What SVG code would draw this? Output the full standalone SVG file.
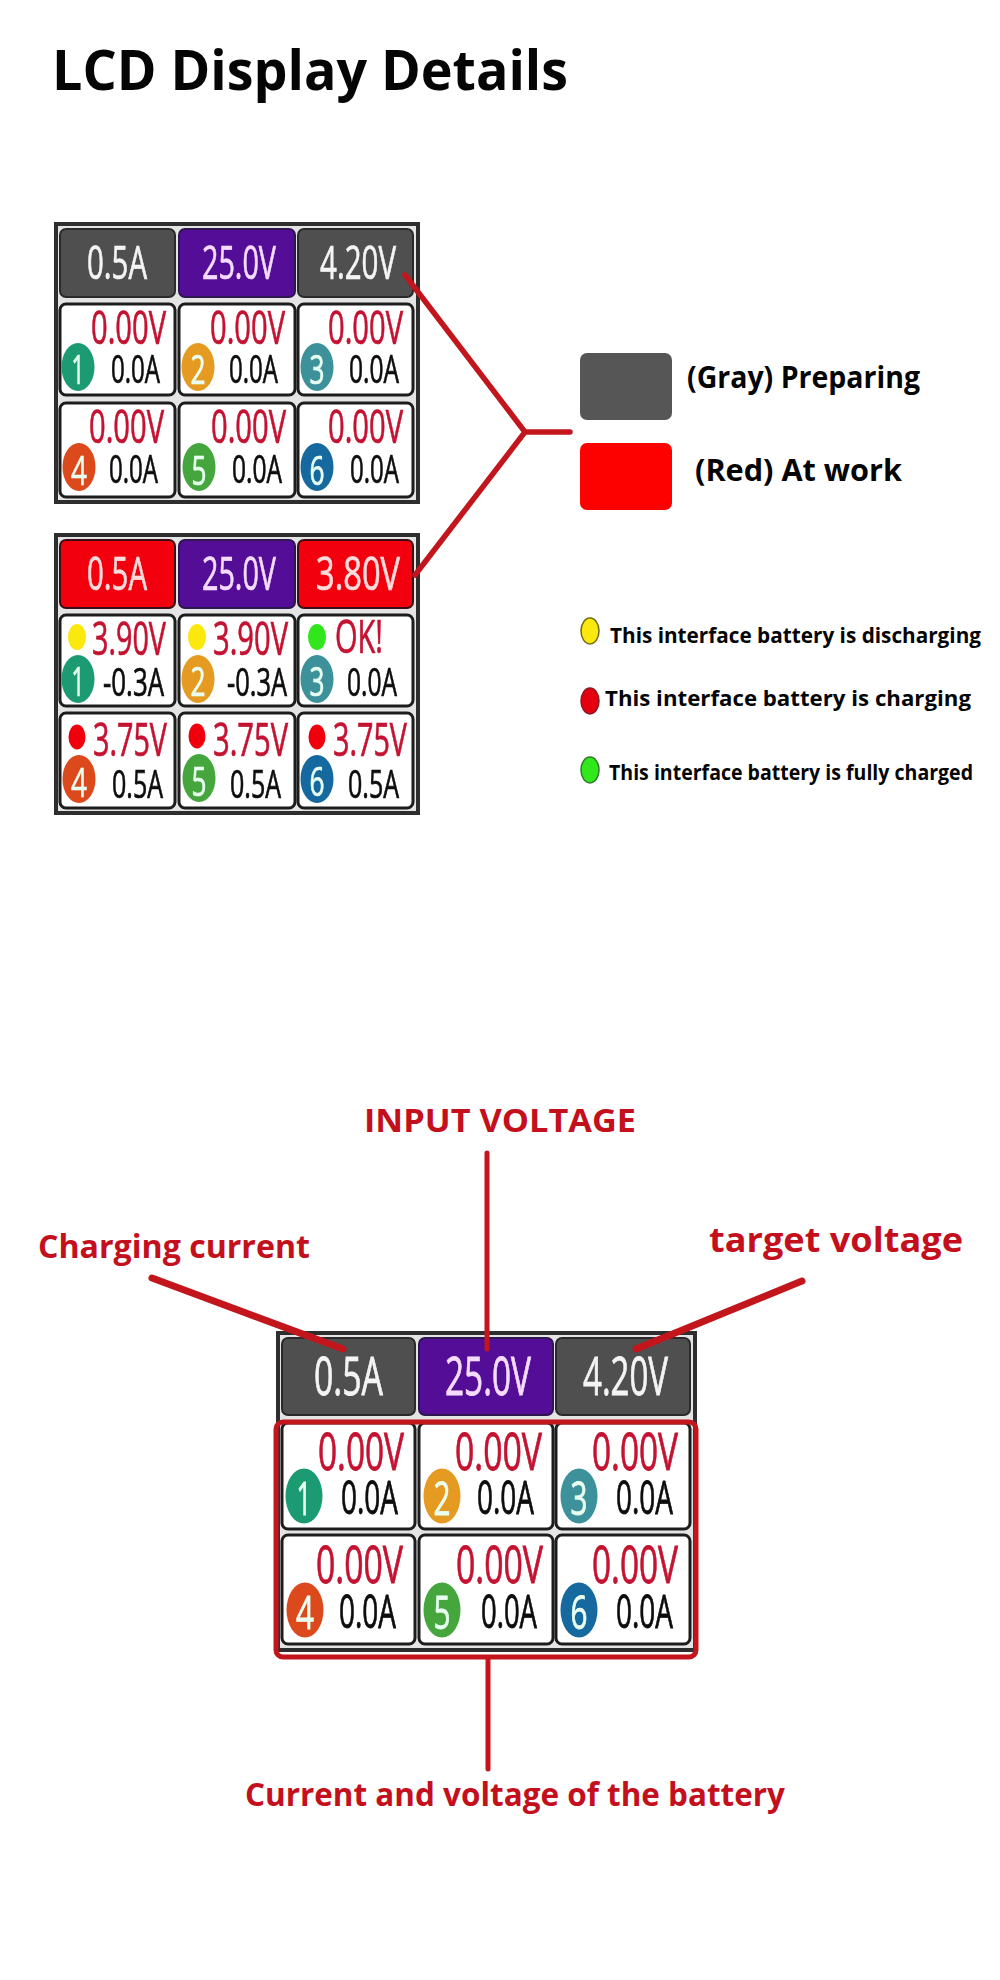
<svg xmlns="http://www.w3.org/2000/svg" width="1000" height="1980" viewBox="0 0 1000 1980">
<defs><filter id="soft" x="-5%" y="-5%" width="110%" height="110%"><feGaussianBlur stdDeviation="0.55"/></filter></defs>
<style>
text{font-family:"Open Sans","Noto Sans","Liberation Sans",sans-serif}
.b{font-weight:700}
.blk{fill:#050505}
.lab{fill:#c3101c}
.frame{fill:#e4e4e4;stroke:#2f2f2f;stroke-width:4}
.cell{fill:#fff;stroke:#1e1e1e;stroke-width:3}
.gray{fill:#4f4f4f;stroke:#2a2a2a;stroke-width:2}
.pur{fill:#520a96;stroke:#2f1450;stroke-width:2}
.redb{fill:#f2000f;stroke:#3a1014;stroke-width:2}
.tw{fill:#f4f4f4;stroke:#f4f4f4;stroke-width:.7;font-size:46px}
.tp{fill:#f5dcff;stroke:#f5dcff;stroke-width:.7;font-size:46px}
.tr{fill:#fbdcdc;stroke:#fbdcdc;stroke-width:.7;font-size:46px}
.v{fill:#c41230;stroke:#c41230;stroke-width:.7;font-size:45px}
.a{fill:#0a0a0a;stroke:#0a0a0a;stroke-width:.7;font-size:38px}
.n{fill:#e8fff0;stroke:#e8fff0;stroke-width:.7;font-size:40px;text-anchor:middle}
.tw3{fill:#f4f4f4;stroke:#f4f4f4;stroke-width:.8;font-size:53px}
.tp3{fill:#f5dcff;stroke:#f5dcff;stroke-width:.8;font-size:53px}
.v3{fill:#c41230;stroke:#c41230;stroke-width:.8;font-size:52px}
.a3{fill:#0a0a0a;stroke:#0a0a0a;stroke-width:.8;font-size:45px}
.n3{fill:#e8fff0;stroke:#e8fff0;stroke-width:.8;font-size:46px;text-anchor:middle}
.conn{stroke:#c2161f;fill:none;stroke-linecap:round}
.c1{fill:#1f9a72}.c2{fill:#e59a21}.c3{fill:#3c919a}.c4{fill:#dc4a1d}.c5{fill:#45a63c}.c6{fill:#16699f}
</style>
<rect width="1000" height="1980" fill="#fff"/>

<text id="title" class="b blk" x="52" y="90" font-size="56" textLength="516" lengthAdjust="spacingAndGlyphs">LCD Display Details</text>

<g id="panel-idle" filter="url(#soft)">
<rect class="frame" x="56" y="224" width="362" height="278"/>
<g id="p1-top1"><rect class="gray" x="60" y="229" width="115" height="68" rx="6"/><text class="tw" x="87" y="279" textLength="60" lengthAdjust="spacingAndGlyphs">0.5A</text></g>
<g id="p1-top2"><rect class="pur" x="179" y="229" width="116" height="68" rx="6"/><text class="tp" x="202" y="279" textLength="74" lengthAdjust="spacingAndGlyphs">25.0V</text></g>
<g id="p1-top3"><rect class="gray" x="298" y="229" width="115" height="68" rx="6"/><text class="tw" x="320" y="279" textLength="76" lengthAdjust="spacingAndGlyphs">4.20V</text></g>
<g id="p1-c1"><rect class="cell" x="60" y="304" width="115" height="91" rx="6"/><text class="v" x="91" y="344" textLength="75" lengthAdjust="spacingAndGlyphs">0.00V</text><ellipse class="c1" cx="78" cy="367" rx="16.5" ry="24"/><text class="n" x="78" y="384" textLength="13" lengthAdjust="spacingAndGlyphs">1</text><text class="a" x="111" y="383" textLength="49" lengthAdjust="spacingAndGlyphs">0.0A</text></g>
<g id="p1-c2"><rect class="cell" x="179" y="304" width="116" height="91" rx="6"/><text class="v" x="210" y="344" textLength="75" lengthAdjust="spacingAndGlyphs">0.00V</text><ellipse class="c2" cx="198" cy="367" rx="16.5" ry="24"/><text class="n" x="198" y="384" textLength="15" lengthAdjust="spacingAndGlyphs">2</text><text class="a" x="229" y="383" textLength="49" lengthAdjust="spacingAndGlyphs">0.0A</text></g>
<g id="p1-c3"><rect class="cell" x="298" y="304" width="115" height="91" rx="6"/><text class="v" x="328" y="344" textLength="75" lengthAdjust="spacingAndGlyphs">0.00V</text><ellipse class="c3" cx="317" cy="367" rx="16.5" ry="24"/><text class="n" x="317" y="384" textLength="15" lengthAdjust="spacingAndGlyphs">3</text><text class="a" x="349" y="383" textLength="50" lengthAdjust="spacingAndGlyphs">0.0A</text></g>
<g id="p1-c4"><rect class="cell" x="60" y="403" width="115" height="94" rx="6"/><text class="v" x="89" y="443" textLength="75" lengthAdjust="spacingAndGlyphs">0.00V</text><ellipse class="c4" cx="79" cy="467" rx="16.5" ry="24"/><text class="n" x="79" y="485" textLength="16" lengthAdjust="spacingAndGlyphs">4</text><text class="a" x="109" y="483" textLength="49" lengthAdjust="spacingAndGlyphs">0.0A</text></g>
<g id="p1-c5"><rect class="cell" x="179" y="403" width="116" height="94" rx="6"/><text class="v" x="211" y="443" textLength="75" lengthAdjust="spacingAndGlyphs">0.00V</text><ellipse class="c5" cx="199" cy="467" rx="16.5" ry="24"/><text class="n" x="199" y="485" textLength="15" lengthAdjust="spacingAndGlyphs">5</text><text class="a" x="232" y="483" textLength="50" lengthAdjust="spacingAndGlyphs">0.0A</text></g>
<g id="p1-c6"><rect class="cell" x="298" y="403" width="115" height="94" rx="6"/><text class="v" x="328" y="443" textLength="75" lengthAdjust="spacingAndGlyphs">0.00V</text><ellipse class="c6" cx="317" cy="467" rx="16.5" ry="24"/><text class="n" x="317" y="485" textLength="15" lengthAdjust="spacingAndGlyphs">6</text><text class="a" x="350" y="483" textLength="49" lengthAdjust="spacingAndGlyphs">0.0A</text></g>
</g>

<g id="panel-work" filter="url(#soft)">
<rect class="frame" x="56" y="535" width="362" height="278"/>
<g id="p2-top1"><rect class="redb" x="60" y="540" width="115" height="68" rx="6"/><text class="tr" x="87" y="590" textLength="60" lengthAdjust="spacingAndGlyphs">0.5A</text></g>
<g id="p2-top2"><rect class="pur" x="179" y="540" width="116" height="68" rx="6"/><text class="tp" x="202" y="590" textLength="74" lengthAdjust="spacingAndGlyphs">25.0V</text></g>
<g id="p2-top3"><rect class="redb" x="298" y="540" width="115" height="68" rx="6"/><text class="tr" x="316" y="590" textLength="84" lengthAdjust="spacingAndGlyphs">3.80V</text></g>
<g id="p2-c1"><rect class="cell" x="60" y="615" width="115" height="91" rx="6"/><ellipse cx="77" cy="637" rx="9" ry="13" fill="#fbe80f"/><text class="v" x="92" y="655" textLength="74" lengthAdjust="spacingAndGlyphs">3.90V</text><ellipse class="c1" cx="78" cy="679" rx="16.5" ry="24"/><text class="n" x="78" y="696" textLength="13" lengthAdjust="spacingAndGlyphs">1</text><text class="a" x="103" y="696" textLength="61" lengthAdjust="spacingAndGlyphs">-0.3A</text></g>
<g id="p2-c2"><rect class="cell" x="179" y="615" width="116" height="91" rx="6"/><ellipse cx="197" cy="637" rx="9" ry="13" fill="#fbe80f"/><text class="v" x="213" y="655" textLength="75" lengthAdjust="spacingAndGlyphs">3.90V</text><ellipse class="c2" cx="198" cy="679" rx="16.5" ry="24"/><text class="n" x="198" y="696" textLength="15" lengthAdjust="spacingAndGlyphs">2</text><text class="a" x="227" y="696" textLength="60" lengthAdjust="spacingAndGlyphs">-0.3A</text></g>
<g id="p2-c3"><rect class="cell" x="298" y="615" width="115" height="91" rx="6"/><ellipse cx="317" cy="637" rx="9" ry="13" fill="#32e61e"/><text class="v" x="335" y="653" textLength="48" lengthAdjust="spacingAndGlyphs">OK!</text><ellipse class="c3" cx="317" cy="679" rx="16.5" ry="24"/><text class="n" x="317" y="696" textLength="15" lengthAdjust="spacingAndGlyphs">3</text><text class="a" x="347" y="696" textLength="50" lengthAdjust="spacingAndGlyphs">0.0A</text></g>
<g id="p2-c4"><rect class="cell" x="60" y="713" width="115" height="95" rx="6"/><ellipse cx="77" cy="737" rx="8.5" ry="12.5" fill="#f0000f"/><text class="v" x="93" y="756" textLength="74" lengthAdjust="spacingAndGlyphs">3.75V</text><ellipse class="c4" cx="79" cy="779" rx="16.5" ry="24"/><text class="n" x="79" y="797" textLength="16" lengthAdjust="spacingAndGlyphs">4</text><text class="a" x="112" y="798" textLength="51" lengthAdjust="spacingAndGlyphs">0.5A</text></g>
<g id="p2-c5"><rect class="cell" x="179" y="713" width="116" height="95" rx="6"/><ellipse cx="197" cy="736" rx="8.5" ry="12.5" fill="#f0000f"/><text class="v" x="213" y="756" textLength="75" lengthAdjust="spacingAndGlyphs">3.75V</text><ellipse class="c5" cx="199" cy="778" rx="16.5" ry="24"/><text class="n" x="199" y="796" textLength="15" lengthAdjust="spacingAndGlyphs">5</text><text class="a" x="230" y="798" textLength="51" lengthAdjust="spacingAndGlyphs">0.5A</text></g>
<g id="p2-c6"><rect class="cell" x="298" y="713" width="115" height="95" rx="6"/><ellipse cx="317" cy="737" rx="8.5" ry="12.5" fill="#f0000f"/><text class="v" x="333" y="756" textLength="74" lengthAdjust="spacingAndGlyphs">3.75V</text><ellipse class="c6" cx="317" cy="779" rx="16.5" ry="24"/><text class="n" x="317" y="796" textLength="15" lengthAdjust="spacingAndGlyphs">6</text><text class="a" x="348" y="798" textLength="51" lengthAdjust="spacingAndGlyphs">0.5A</text></g>
</g>

<g id="legend-gray"><rect x="580" y="353" width="92" height="67" rx="7" fill="#565656"/><text class="b blk" x="687" y="388" font-size="30" textLength="233" lengthAdjust="spacingAndGlyphs">(Gray) Preparing</text></g>
<g id="legend-red"><rect x="580" y="443" width="92" height="67" rx="7" fill="#fd0000"/><text class="b blk" x="695" y="481" font-size="30" textLength="207" lengthAdjust="spacingAndGlyphs">(Red) At work</text></g>
<g id="dot-yellow"><ellipse cx="590" cy="631" rx="9" ry="13" fill="#fbe80f" stroke="#6f6a10" stroke-width="1.5"/><text class="b blk" x="610" y="643" font-size="21" textLength="371" lengthAdjust="spacingAndGlyphs">This interface battery is discharging</text></g>
<g id="dot-red"><ellipse cx="590" cy="701" rx="9" ry="13" fill="#e4000f" stroke="#8c1a22" stroke-width="1.5"/><text class="b blk" x="605" y="706" font-size="21" textLength="366" lengthAdjust="spacingAndGlyphs">This interface battery is charging</text></g>
<g id="dot-green"><ellipse cx="590" cy="770" rx="9" ry="13" fill="#30e81c" stroke="#2d7a2a" stroke-width="1.5"/><text class="b blk" x="609" y="780" font-size="21" textLength="364" lengthAdjust="spacingAndGlyphs">This interface battery is fully charged</text></g>

<g id="panel-annotated" filter="url(#soft)">
<rect class="frame" x="278" y="1333" width="417" height="317"/>
<g id="p3-top1"><rect class="gray" x="282" y="1338" width="133" height="77" rx="6"/><text class="tw3" x="314" y="1395" textLength="69" lengthAdjust="spacingAndGlyphs">0.5A</text></g>
<g id="p3-top2"><rect class="pur" x="419" y="1338" width="134" height="77" rx="6"/><text class="tp3" x="445" y="1395" textLength="86" lengthAdjust="spacingAndGlyphs">25.0V</text></g>
<g id="p3-top3"><rect class="gray" x="556" y="1338" width="134" height="77" rx="6"/><text class="tw3" x="583" y="1395" textLength="85" lengthAdjust="spacingAndGlyphs">4.20V</text></g>
<g id="p3-c1"><rect class="cell" x="282" y="1423" width="133" height="106" rx="6"/><text class="v3" x="318" y="1470" textLength="86" lengthAdjust="spacingAndGlyphs">0.00V</text><ellipse class="c1" cx="304" cy="1496" rx="18.5" ry="27.5"/><text class="n3" x="304" y="1515" textLength="15" lengthAdjust="spacingAndGlyphs">1</text><text class="a3" x="341" y="1514" textLength="57" lengthAdjust="spacingAndGlyphs">0.0A</text></g>
<g id="p3-c2"><rect class="cell" x="419" y="1423" width="134" height="106" rx="6"/><text class="v3" x="455" y="1470" textLength="87" lengthAdjust="spacingAndGlyphs">0.00V</text><ellipse class="c2" cx="442" cy="1496" rx="18.5" ry="27.5"/><text class="n3" x="442" y="1515" textLength="17" lengthAdjust="spacingAndGlyphs">2</text><text class="a3" x="477" y="1514" textLength="57" lengthAdjust="spacingAndGlyphs">0.0A</text></g>
<g id="p3-c3"><rect class="cell" x="556" y="1423" width="134" height="106" rx="6"/><text class="v3" x="592" y="1470" textLength="86" lengthAdjust="spacingAndGlyphs">0.00V</text><ellipse class="c3" cx="579" cy="1496" rx="18.5" ry="27.5"/><text class="n3" x="579" y="1515" textLength="17" lengthAdjust="spacingAndGlyphs">3</text><text class="a3" x="616" y="1514" textLength="57" lengthAdjust="spacingAndGlyphs">0.0A</text></g>
<g id="p3-c4"><rect class="cell" x="282" y="1535" width="133" height="109" rx="6"/><text class="v3" x="316" y="1583" textLength="87" lengthAdjust="spacingAndGlyphs">0.00V</text><ellipse class="c4" cx="305" cy="1610" rx="18.5" ry="27.5"/><text class="n3" x="305" y="1629" textLength="18" lengthAdjust="spacingAndGlyphs">4</text><text class="a3" x="339" y="1628" textLength="57" lengthAdjust="spacingAndGlyphs">0.0A</text></g>
<g id="p3-c5"><rect class="cell" x="419" y="1535" width="134" height="109" rx="6"/><text class="v3" x="456" y="1583" textLength="87" lengthAdjust="spacingAndGlyphs">0.00V</text><ellipse class="c5" cx="442" cy="1610" rx="18.5" ry="27.5"/><text class="n3" x="442" y="1629" textLength="17" lengthAdjust="spacingAndGlyphs">5</text><text class="a3" x="481" y="1628" textLength="56" lengthAdjust="spacingAndGlyphs">0.0A</text></g>
<g id="p3-c6"><rect class="cell" x="556" y="1535" width="134" height="109" rx="6"/><text class="v3" x="592" y="1583" textLength="86" lengthAdjust="spacingAndGlyphs">0.00V</text><ellipse class="c6" cx="579" cy="1610" rx="18.5" ry="27.5"/><text class="n3" x="579" y="1629" textLength="17" lengthAdjust="spacingAndGlyphs">6</text><text class="a3" x="616" y="1628" textLength="57" lengthAdjust="spacingAndGlyphs">0.0A</text></g>
</g>

<g id="connectors" filter="url(#soft)">
<path class="conn" stroke-width="5.5" d="M405 275L525 432L415 575M525 432H570"/>
<rect class="conn" stroke-width="5" x="276" y="1422" width="420" height="235" rx="7"/>
<path class="conn" stroke-width="7" d="M152 1278L343 1349"/>
<path class="conn" stroke-width="7" d="M802 1281L636 1349"/>
<path class="conn" stroke-width="5" d="M487 1153V1349"/>
<path class="conn" stroke-width="5" d="M488 1658V1769"/>
</g>

<g id="labels">
<text class="b lab" x="364" y="1132" font-size="33" textLength="272" lengthAdjust="spacingAndGlyphs">INPUT VOLTAGE</text>
<text class="b lab" x="38" y="1258" font-size="32" textLength="272" lengthAdjust="spacingAndGlyphs">Charging current</text>
<text class="b lab" x="709" y="1252" font-size="34" textLength="254" lengthAdjust="spacingAndGlyphs">target voltage</text>
<text class="b lab" x="245" y="1806" font-size="32" textLength="540" lengthAdjust="spacingAndGlyphs">Current and voltage of the battery</text>
</g>
</svg>
